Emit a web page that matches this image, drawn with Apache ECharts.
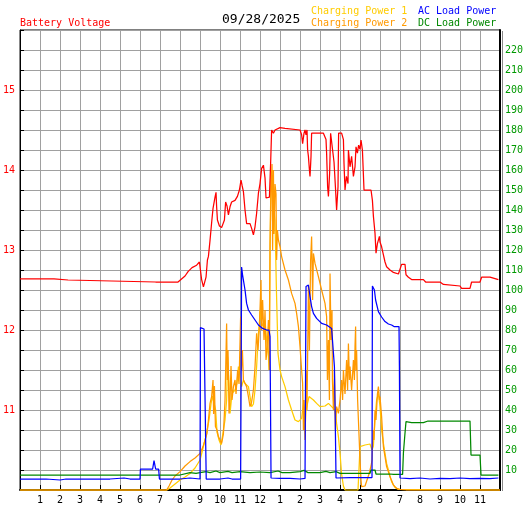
<!DOCTYPE html>
<html>
<head>
<meta charset="utf-8">
<title>Battery Voltage</title>
<script src="https://cdn.jsdelivr.net/npm/echarts@6/dist/echarts.min.js"></script>
<style>
  html, body { margin: 0; padding: 0; background: #fff; }
  #chart { width: 527px; height: 510px; }
</style>
</head>
<body>
<div id="chart"></div>
<script>
// date shown in the header
const dateText = '09/28/2025'

// hour tick labels, index = hour of day
const hourLabels = ['', '1', '2', '3', '4', '5', '6', '7', '8', '9', '10', '11', '12',
  '1', '2', '3', '4', '5', '6', '7', '8', '9', '10', '11', '']

// battery voltage [hour, volts]
const voltageData = [
  [0, 12.64], [1.7, 12.64], [1.72, 12.625], [2.4, 12.625], [2.45, 12.6], [6.78, 12.6], [6.8, 12.58], [6.83, 12.6],
  [7.9, 12.6], [8.0, 12.625], [8.25, 12.675], [8.4, 12.73], [8.6, 12.78], [8.83, 12.81], [8.97, 12.85],
  [9.08, 12.63], [9.17, 12.54], [9.25, 12.54], [9.3, 12.66], [9.37, 12.875], [9.42, 12.92], [9.5, 13.12],
  [9.58, 13.34], [9.65, 13.52], [9.75, 13.66], [9.8, 13.72], [9.83, 13.54], [9.87, 13.375], [9.97, 13.3],
  [10.08, 13.28], [10.17, 13.28], [10.22, 13.375], [10.28, 13.6], [10.35, 13.55], [10.42, 13.44], [10.5, 13.54],
  [10.58, 13.6], [10.67, 13.61], [10.75, 13.62], [10.87, 13.67], [10.97, 13.75], [11.05, 13.875], [11.1, 13.81],
  [11.17, 13.73], [11.25, 13.5], [11.33, 13.33], [11.42, 13.31], [11.5, 13.33], [11.58, 13.27], [11.67, 13.19],
  [11.75, 13.29], [11.83, 13.46], [11.92, 13.71], [12.0, 13.83], [12.08, 14.02], [12.17, 14.06], [12.25, 13.9],
  [12.3, 13.65], [12.38, 13.625], [12.47, 13.66], [12.53, 14.08], [12.58, 14.5], [12.67, 14.46], [12.75, 14.5],
  [12.83, 14.52], [13.0, 14.53], [13.25, 14.52], [13.33, 14.5], [14.0, 14.5], [14.08, 14.44], [14.13, 14.33],
  [14.2, 14.46], [14.25, 14.5], [14.3, 14.44], [14.35, 14.5], [14.38, 14.25], [14.42, 14.17], [14.47, 14.0],
  [14.5, 13.92], [14.55, 14.17], [14.58, 14.46], [15.17, 14.46], [15.25, 14.44], [15.3, 14.38], [15.33, 14.21],
  [15.38, 13.79], [15.42, 13.67], [15.48, 13.96], [15.53, 14.46], [15.6, 14.44], [15.7, 14.1], [15.77, 13.79],
  [15.83, 13.5], [15.9, 13.79], [15.93, 14.46], [16.08, 14.46], [16.17, 14.38], [16.2, 14.08], [16.25, 13.75],
  [16.32, 13.92], [16.4, 13.83], [16.42, 14.25], [16.5, 14.04], [16.58, 14.17], [16.67, 13.92], [16.75, 14.04],
  [16.8, 14.29], [16.87, 14.21], [16.93, 14.31], [17.0, 14.26], [17.05, 14.375], [17.12, 14.25], [17.2, 13.75],
  [17.55, 13.75], [17.62, 13.62], [17.67, 13.42], [17.75, 13.21], [17.8, 12.96], [17.87, 13.08], [17.97, 13.17],
  [18.0, 13.1], [18.08, 13.04], [18.17, 12.94], [18.25, 12.85], [18.33, 12.79], [18.5, 12.75], [18.67, 12.72],
  [18.92, 12.7], [19.0, 12.69], [19.08, 12.82], [19.25, 12.82], [19.3, 12.69], [19.42, 12.66], [19.58, 12.63],
  [20.17, 12.63], [20.28, 12.6], [21.0, 12.6], [21.17, 12.57], [22.0, 12.55], [22.08, 12.52], [22.5, 12.52],
  [22.58, 12.6], [23.0, 12.6], [23.08, 12.66], [23.5, 12.66], [23.92, 12.63]
]

// AC load power [hour, watts]
const acLoadData = [
  [0, 5.5], [0.8, 5.5], [0.85, 6], [1.3, 5.5], [2.0, 5], [2.3, 5.5], [3.2, 5.5], [3.25, 6], [3.6, 5.5], [4.5, 5.5],
  [5.2, 6], [5.5, 5.5], [6.0, 5.5], [6.02, 10.5], [6.63, 10.5], [6.7, 14.7], [6.78, 10.5], [6.93, 10.5], [6.97, 5.5],
  [8.0, 5.5], [8.5, 6], [9.0, 5.5], [9.02, 81.2], [9.2, 80.5], [9.28, 80], [9.31, 5.5], [10.0, 5.5], [10.4, 6],
  [10.6, 5.5], [11.03, 5.5], [11.08, 111.5], [11.12, 108], [11.25, 100], [11.33, 93.3], [11.42, 90], [11.58, 87.5],
  [11.75, 85], [11.92, 82.5], [12.13, 80.8], [12.33, 80], [12.45, 80], [12.5, 76.7], [12.55, 6], [13.0, 5.8],
  [13.5, 5.8], [14.0, 5.5], [14.25, 5.8], [14.3, 101.7], [14.42, 102.5], [14.5, 96.7], [14.58, 91.7], [14.67, 88.3],
  [14.83, 85.8], [15.08, 83.3], [15.33, 82.5], [15.58, 80.8], [15.67, 80], [15.72, 61.7], [15.75, 43.5], [15.8, 6],
  [16.5, 6.2], [17.6, 6.2], [17.62, 102], [17.72, 100], [17.78, 95], [17.92, 89.2], [18.08, 86.5], [18.25, 84.2],
  [18.42, 83], [18.58, 82.5], [18.7, 81.7], [18.95, 81.7], [18.97, 61.7], [19.0, 6], [19.5, 5.7], [20, 6],
  [20.5, 5.5], [21, 5.8], [21.5, 5.7], [22, 6], [22.5, 5.7], [23, 5.8], [23.5, 5.7], [23.92, 6]
]

// DC load power [hour, watts]
const dcLoadData = [
  [0, 7.5], [1.4, 7.5], [1.45, 8], [1.5, 7.5], [8.0, 7.5], [8.1, 8.3], [8.5, 8.7], [8.8, 8.3], [9.0, 8.7], [9.3, 9.2],
  [9.5, 8.7], [9.8, 9.5], [10.0, 8.7], [10.4, 9.3], [10.6, 8.7], [11.0, 9.2], [11.5, 8.7], [12.0, 9], [12.5, 8.7],
  [12.9, 9.5], [13.1, 8.7], [13.5, 8.7], [14.0, 9.2], [14.2, 9.8], [14.4, 8.7], [15.0, 8.7], [15.3, 9.3], [15.5, 8.7],
  [15.8, 9.2], [16.0, 8.3], [17.5, 8.3], [17.55, 10], [17.75, 10], [17.8, 8], [18.5, 8], [18.67, 7.8], [19.13, 7.8],
  [19.17, 18.5], [19.25, 28.5], [19.3, 34.2], [19.58, 33.7], [20.17, 33.7], [20.4, 34.5], [22.5, 34.5], [22.55, 17.5],
  [23.0, 17.5], [23.05, 7.5], [23.92, 7.5]
]

// charging power 1 [hour, watts]
const charge1Data = [
  [0, 0], [7.35, 0], [7.5, 1], [7.75, 3], [8.0, 5], [8.25, 6.5], [8.5, 8.3], [8.75, 11], [9.0, 15], [9.15, 21],
  [9.3, 27], [9.45, 35], [9.55, 43], [9.62, 47], [9.7, 48], [9.78, 40], [9.85, 29], [9.95, 25], [10.05, 22.5],
  [10.15, 23], [10.25, 35], [10.33, 45], [10.38, 66.7], [10.45, 53.3], [10.5, 38.3], [10.6, 48.3], [10.67, 48],
  [10.75, 50], [10.85, 53.3], [10.92, 61.7], [11.08, 51.7], [11.17, 55], [11.25, 53.3], [11.42, 51.7], [11.5, 46.7],
  [11.58, 41.7], [11.67, 43], [11.75, 50], [11.83, 61.7], [11.92, 78.3], [11.97, 83.3], [12.0, 90], [12.1, 82],
  [12.17, 83.3], [12.25, 85], [12.33, 75], [12.42, 66.7], [12.45, 60], [12.5, 118.3], [12.55, 160], [12.62, 150],
  [12.68, 143], [12.75, 135], [12.82, 100], [12.9, 68.3], [13.0, 60], [13.08, 56.7], [13.25, 51.7], [13.42, 45],
  [13.58, 40], [13.75, 35], [13.92, 34.2], [14.08, 35.8], [14.17, 43.3], [14.25, 30], [14.3, 40], [14.45, 46.7],
  [14.67, 45], [14.83, 43.3], [15.0, 41.7], [15.25, 42], [15.42, 43.3], [15.58, 41.7], [15.75, 40], [15.83, 33.3],
  [15.92, 26.7], [16.0, 18.3], [16.08, 8], [16.17, 2], [16.25, 0], [16.9, 0], [16.97, 15], [17.0, 21.7],
  [17.25, 22.5], [17.5, 23], [17.6, 20], [17.67, 22], [17.75, 35], [17.83, 45], [17.92, 48.3], [18.0, 41.7],
  [18.08, 30], [18.17, 23.3], [18.25, 18.3], [18.33, 13.3], [18.42, 10], [18.5, 6.7], [18.58, 4.2], [18.67, 2.5],
  [18.75, 1.3], [18.92, 0.3], [19.0, 0], [24, 0]
]

// charging power 2 [hour, watts]
const charge2Data = [
  [0, 0], [7.33, 0], [7.45, 2], [7.6, 5], [7.75, 7], [8.0, 9.2], [8.25, 12], [8.5, 14.2], [8.75, 16], [9.0, 18.3],
  [9.15, 21.7], [9.25, 25], [9.35, 28.3], [9.42, 35], [9.5, 43.3], [9.58, 46.7], [9.65, 55], [9.68, 38], [9.72, 52],
  [9.77, 31.7], [9.85, 30], [9.92, 26.7], [10.0, 25], [10.08, 23.3], [10.17, 28], [10.25, 45], [10.33, 83.3],
  [10.36, 55], [10.4, 70], [10.45, 38.3], [10.5, 45], [10.55, 62], [10.6, 45], [10.67, 51.7], [10.75, 55],
  [10.8, 48], [10.88, 60], [10.95, 53], [11.03, 86.7], [11.07, 60], [11.12, 70], [11.17, 55], [11.25, 53.3],
  [11.33, 51.7], [11.42, 46.7], [11.5, 41.7], [11.58, 44], [11.67, 50], [11.75, 61.7], [11.83, 78.3], [11.9, 70],
  [11.97, 81.7], [12.05, 105], [12.08, 80], [12.13, 95], [12.2, 75], [12.25, 90], [12.3, 65], [12.35, 70],
  [12.42, 85], [12.47, 60], [12.5, 123.3], [12.55, 151.7], [12.6, 163], [12.63, 120], [12.67, 160], [12.7, 128],
  [12.75, 153], [12.8, 148], [12.83, 115], [12.87, 130], [12.92, 125], [13.0, 121.7], [13.08, 116.7], [13.25, 110],
  [13.42, 105], [13.58, 98.3], [13.75, 93.3], [13.83, 88.3], [13.92, 81.7], [14.0, 71.7], [14.08, 60], [14.13, 53.3],
  [14.17, 30], [14.2, 45], [14.25, 25], [14.3, 60], [14.35, 40], [14.42, 101.7], [14.47, 70], [14.53, 115],
  [14.58, 126.7], [14.63, 95], [14.67, 118.3], [14.75, 113.3], [14.92, 106.7], [15.08, 100], [15.25, 93.3],
  [15.33, 86.7], [15.37, 55], [15.42, 75], [15.47, 45], [15.5, 108.3], [15.55, 75], [15.6, 90], [15.62, 55],
  [15.67, 40], [15.72, 60], [15.77, 30], [15.83, 41.7], [15.92, 38.3], [16.0, 45], [16.08, 55], [16.13, 45],
  [16.17, 60], [16.25, 48], [16.33, 65], [16.38, 50], [16.42, 73.3], [16.47, 55], [16.5, 61.7], [16.58, 50],
  [16.67, 65], [16.72, 55], [16.75, 71.7], [16.78, 81.7], [16.8, 60], [16.83, 70], [16.88, 45], [16.92, 35],
  [17.0, 15], [17.05, 5], [17.08, 1.7], [17.25, 2], [17.45, 8], [17.55, 12], [17.6, 15], [17.65, 30], [17.7, 25],
  [17.75, 40], [17.8, 35], [17.87, 48], [17.92, 51.7], [17.97, 45], [18.0, 46.7], [18.08, 36.7], [18.17, 21.7],
  [18.33, 11.7], [18.5, 6.7], [18.67, 2.5], [18.83, 0.8], [19.0, 0.3], [19.3, 0], [24, 0]
]

const monoFont = '"DejaVu Sans Mono", monospace'
const chart = echarts.init(document.getElementById('chart'))

function lineSeries(name, data, color, axis){
  return {
    name: name,
    type: 'line',
    yAxisIndex: axis,
    data: data,
    showSymbol: false,
    animation: false,
    lineStyle: { width: 1.25, color: color },
    itemStyle: { color: color }
  }
}

function headText(text, x, y, color, size){
  return {
    type: 'text',
    x: x,
    y: y,
    style: {
      text: text,
      fill: color,
      font: size + 'px ' + monoFont,
      verticalAlign: 'middle'
    }
  }
}

const option = {
  backgroundColor: '#fff',
  animation: false,
  grid: {
    left: 20, top: 30, width: 480, height: 460,
    show: true, borderColor: '#000', borderWidth: 1
  },
  xAxis: {
    type: 'value',
    min: 0, max: 24, interval: 1,
    axisLine: { lineStyle: { color: '#000', width: 2 } },
    axisTick: { inside: true, length: 5, lineStyle: { color: '#000' } },
    axisLabel: {
      color: '#000', fontFamily: monoFont, fontSize: 10, margin: 5,
      formatter: (v) => hourLabels[Math.round(v)]
    },
    splitLine: { show: true, lineStyle: { color: '#a0a0a0', width: 1 } }
  },
  yAxis: [
    {
      type: 'value',
      min: 10, max: 15.75, interval: 0.25,
      position: 'left',
      axisLine: { show: true, lineStyle: { color: '#000', width: 1 } },
      axisTick: { show: true, inside: true, length: 4, lineStyle: { color: '#000' } },
      axisLabel: {
        color: '#ff0000', fontFamily: monoFont, fontSize: 10, margin: 5,
        formatter: (v) => (Number.isInteger(v) && v >= 11 && v <= 15) ? String(v) : ''
      },
      splitLine: { show: true, lineStyle: { color: '#a0a0a0', width: 1 } }
    },
    {
      type: 'value',
      min: 0, max: 230, interval: 10,
      position: 'right',
      axisLine: { show: true, lineStyle: { color: '#000', width: 2 } },
      axisTick: { show: false },
      axisLabel: {
        color: '#009900', fontFamily: monoFont, fontSize: 10, margin: 5,
        formatter: (v) => (v >= 10 && v <= 220) ? String(v) : ''
      },
      splitLine: { show: false }
    }
  ],
  graphic: [
    headText('Battery Voltage', 20, 23, '#ff0000', 10),
    headText(dateText, 222, 20, '#000', 13),
    headText('Charging Power 1', 311, 11, '#ffcc00', 10),
    headText('Charging Power 2', 311, 23, '#ff9900', 10),
    headText('AC Load Power', 418, 11, '#0000ff', 10),
    headText('DC Load Power', 418, 23, '#008800', 10),
    // thin shadow on the right frame edge
    { type: 'rect', shape: { x: 502, y: 31, width: 1, height: 460 }, style: { fill: '#888' } }
  ],
  series: [
    lineSeries('Charging Power 1', charge1Data, '#ffcc00', 1),
    lineSeries('Charging Power 2', charge2Data, '#ff9900', 1),
    lineSeries('DC Load Power', dcLoadData, '#008800', 1),
    lineSeries('AC Load Power', acLoadData, '#0000ff', 1),
    lineSeries('Battery Voltage', voltageData, '#ff0000', 0)
  ]
}

chart.setOption(option)
</script>
</body>
</html>
